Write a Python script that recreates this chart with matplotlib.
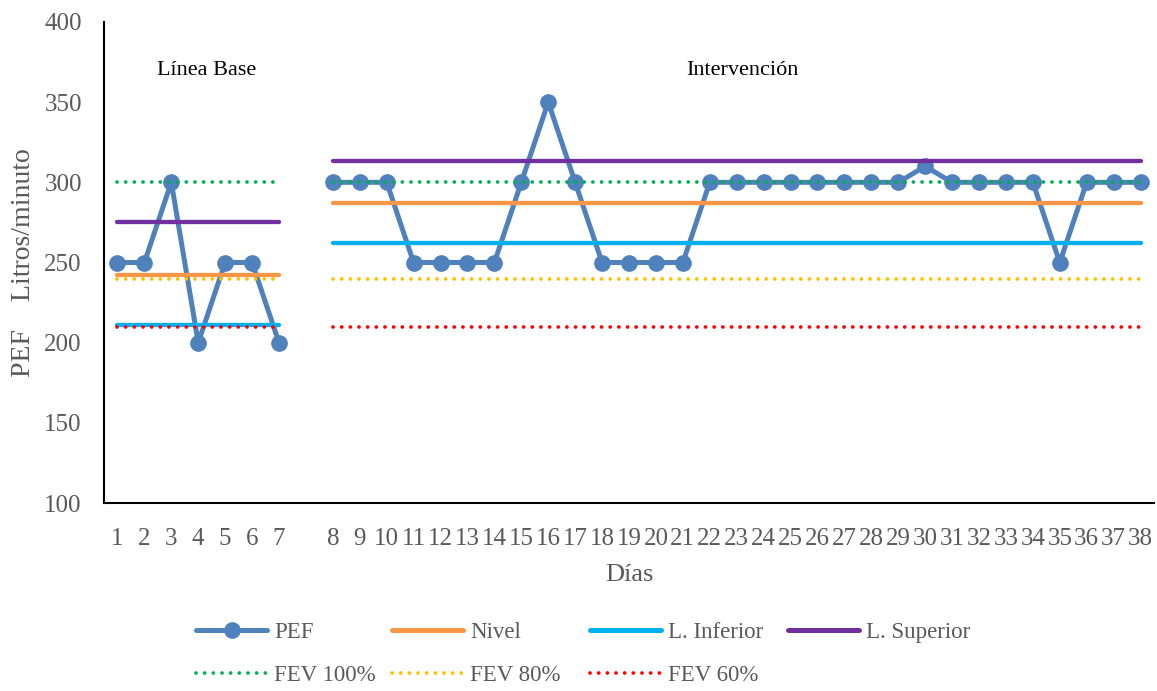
import matplotlib
matplotlib.use("Agg")
import matplotlib.pyplot as plt
from matplotlib.lines import Line2D

plt.rcParams["font.family"] = ["Liberation Serif", "DejaVu Serif"]

# ---- data -----------------------------------------------------------------
dias_base = [1, 2, 3, 4, 5, 6, 7]
dias_int = [8, 9, 10, 11, 12, 13, 14, 15, 16, 17, 18, 19, 20, 21, 22, 23,
            24, 25, 26, 27, 28, 29, 30, 31, 32, 33, 34, 35, 36, 37, 38]

pef_base = [250, 250, 300, 200, 250, 250, 200]
pef_int = [300, 300, 300, 250, 250, 250, 250, 300, 350, 300, 250, 250, 250,
           250, 300, 300, 300, 300, 300, 300, 300, 300, 310, 300, 300, 300,
           300, 250, 300, 300, 300]

# reference levels for each phase (litros/minuto)
nivel = {"base": 242, "int": 287}
l_inferior = {"base": 211, "int": 262}
l_superior = {"base": 275, "int": 313}
fev100 = {"base": 300, "int": 300}
fev80 = {"base": 240, "int": 240}
fev60 = {"base": 210, "int": 210}

y_ticks = [100, 150, 200, 250, 300, 350, 400]

AZUL = "#4F81BD"
NARANJA = "#F79646"
CELESTE = "#00B0F0"
MORADO = "#7030A0"
VERDE = "#00B050"
AMARILLO = "#FFC000"
ROJO = "#FF0000"
GRIS = "#595959"

# one empty category separates the two phases
categorias = dias_base + [None] + dias_int
pos = {d: i for i, d in enumerate(categorias) if d is not None}

fig = plt.figure(figsize=(11.57, 6.91), dpi=100)
ax = fig.add_axes([104 / 1157, 188 / 691, 1050 / 1157, 481 / 691])

fases = {"base": dias_base, "int": dias_int}
series_pef = {"base": pef_base, "int": pef_int}

punteado = (0, (0.01, 2.3))
for fase, dias in fases.items():
    x = [pos[d] for d in dias]
    ax.plot(x, series_pef[fase], color=AZUL, lw=3.6, marker="o", ms=11,
            solid_joinstyle="round", solid_capstyle="round", zorder=2)
    extremos = [x[0], x[-1]]
    for niveles, color in ((nivel, NARANJA), (l_inferior, CELESTE),
                           (l_superior, MORADO)):
        ax.plot(extremos, [niveles[fase]] * 2, color=color, lw=3.1,
                solid_capstyle="round", zorder=3)
    for niveles, color in ((fev100, VERDE), (fev80, AMARILLO), (fev60, ROJO)):
        ax.plot(extremos, [niveles[fase]] * 2, color=color, lw=2.7,
                ls=punteado, dash_capstyle="round", zorder=4)

ax.text(3.3, 370, "Línea Base", ha="center", va="center", fontsize=16,
        color="black")
ax.text(23.2, 370, "Intervención", ha="center", va="center", fontsize=16,
        color="black")

ax.set_xlim(-0.5, len(categorias) - 0.5)
ax.set_ylim(100, 400)
ax.set_xticks([pos[d] for d in dias_base + dias_int])
ax.set_xticklabels([str(d) for d in dias_base + dias_int])
ax.set_yticks(y_ticks)
ax.tick_params(axis="x", length=0, pad=18, labelsize=18, labelcolor=GRIS)
ax.tick_params(axis="y", length=0, pad=16, labelsize=18, labelcolor=GRIS)

for lado in ("top", "right"):
    ax.spines[lado].set_visible(False)
for lado in ("left", "bottom"):
    ax.spines[lado].set_linewidth(1.5)
    ax.spines[lado].set_color("black")

ax.set_xlabel("Días", fontsize=19, color=GRIS, labelpad=10)
ax.set_ylabel("PEF    Litros/minuto", fontsize=20, color=GRIS, labelpad=6)

# legend: four columns, each built separately so they sit evenly spaced
def h_solida(color, **kw):
    return Line2D([], [], color=color, lw=3.6, solid_capstyle="round", **kw)

def h_punteada(color):
    return Line2D([], [], color=color, lw=2.7, ls=punteado,
                  dash_capstyle="round")

columnas = [
    ([h_solida(AZUL, marker="o", ms=11), h_punteada(VERDE)], ["PEF", "FEV 100%"]),
    ([h_solida(NARANJA), h_punteada(AMARILLO)], ["Nivel", "FEV 80%"]),
    ([h_solida(CELESTE), h_punteada(ROJO)], ["L. Inferior", "FEV 60%"]),
    ([h_solida(MORADO)], ["L. Superior"]),
]
x_col = [196, 392, 590, 788]
for (handles, labels), xc in zip(columnas, x_col):
    leg = fig.legend(handles, labels, loc="upper left",
                     bbox_to_anchor=(xc / 1157, 1 - 622 / 691),
                     frameon=False, fontsize=16.5, handlelength=3.1,
                     handletextpad=0.3, borderpad=0, borderaxespad=0,
                     labelspacing=0.95)
    for t in leg.get_texts():
        t.set_color(GRIS)

fig.savefig("out.png", dpi=100)
